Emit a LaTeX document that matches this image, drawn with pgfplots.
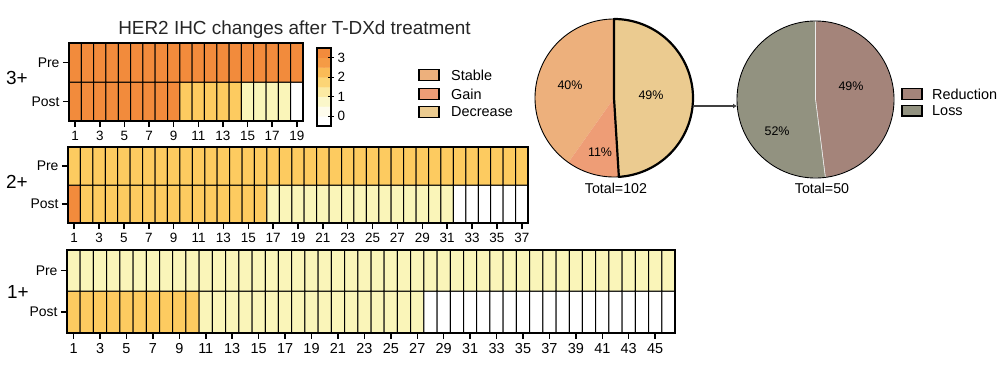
\documentclass[border=0pt]{standalone}
\usepackage{pgfplots}
\pgfplotsset{compat=1.18}
\usepackage{fontspec}
\setmainfont{Liberation Sans}
\usetikzlibrary{arrows.meta}

\definecolor{cstable}{RGB}{237,176,124}
\definecolor{cgain}{RGB}{238,157,118}
\definecolor{cdec}{RGB}{235,203,144}
\definecolor{cred}{RGB}{164,132,122}
\definecolor{closs}{RGB}{146,146,128}

\pgfplotsset{
  myhm/.style={
    scale only axis, anchor=south west, axis on top,
    axis line style={line width=1.8bp},
    enlargelimits=false, ymin=0.5, ymax=2.5,
    ytick={1,2}, yticklabels={Post,Pre},
    tick align=outside, major tick length=6bp,
    xtick pos=bottom, ytick pos=left,
    every tick/.style={black, line width=1.5bp},
    x tick label style={font=\fontsize{13.5}{13.5}\selectfont, yshift=-1bp},
    y tick label style={font=\fontsize{14}{14}\selectfont},
    /pgf/number format/assume math mode=true,
    point meta min=0, point meta max=3,
  },
}

\begin{document}
\begin{tikzpicture}
\path[use as bounding box] (0,0) rectangle (1006bp,-367bp);

% ---------- Pie 1 (Total = 102: Decrease 50, Gain 11, Stable 41) ----------
\begin{axis}[scale only axis, anchor=south west, at={(535bp,-177bp)},
  width=158bp, height=158bp, xmin=-1, xmax=1, ymin=-1, ymax=1, hide axis, clip=false]
\addplot[fill=cstable, draw=none, domain={90-360}:{90-360*(50+11)/102}, samples=120]
  ({cos(x)},{sin(x)}) -- (axis cs:0,0) -- cycle;
\addplot[fill=cgain, draw=none, domain={90-360*(50+11)/102}:{90-360*50/102}, samples=40]
  ({cos(x)},{sin(x)}) -- (axis cs:0,0) -- cycle;
\addplot[black, line width=0.9bp, domain=0:360, samples=240] ({cos(x)},{sin(x)});
\addplot[fill=cdec, draw=black, line width=2.2bp, line join=round, domain={90-360*50/102}:90, samples=120]
  ({cos(x)},{sin(x)}) -- (axis cs:0,0) -- cycle;
\node[font=\fontsize{12.5}{12.5}\selectfont] at (axis cs:-0.557,0.165) {40\%};
\node[font=\fontsize{12.5}{12.5}\selectfont] at (axis cs:0.468,0.038) {49\%};
\node[font=\fontsize{12.5}{12.5}\selectfont] at (axis cs:-0.177,-0.684) {11\%};
\node[font=\fontsize{14.3}{14.3}\selectfont] at (axis cs:0.025,-1.14) {Total=102};
\end{axis}

% ---------- Pie 2 (Total = 50: Reduction 24, Loss 26) ----------
\begin{axis}[scale only axis, anchor=south west, at={(737bp,-178bp)},
  width=157bp, height=157bp, xmin=-1, xmax=1, ymin=-1, ymax=1, hide axis, clip=false]
\addplot[fill=cred, draw=white!85!gray, line width=0.6bp, domain={90-360*24/50}:90, samples=120]
  ({cos(x)},{sin(x)}) -- (axis cs:0,0) -- cycle;
\addplot[fill=closs, draw=white!85!gray, line width=0.6bp, domain={90-360}:{90-360*24/50}, samples=120]
  ({cos(x)},{sin(x)}) -- (axis cs:0,0) -- cycle;
\addplot[black, line width=0.9bp, domain=0:360, samples=240] ({cos(x)},{sin(x)});
\node[font=\fontsize{12.5}{12.5}\selectfont] at (axis cs:0.452,0.172) {49\%};
\node[font=\fontsize{12.5}{12.5}\selectfont] at (axis cs:-0.49,-0.401) {52\%};
\node[font=\fontsize{14.3}{14.3}\selectfont] at (axis cs:0.083,-1.127) {Total=50};
\end{axis}

% arrow between pies
\draw[line width=2.2bp, black!75, -{Latex[length=4bp,width=5bp]}] (693bp,-106bp) -- (737bp,-106bp);

% Title
\node[font=\fontsize{19}{19}\selectfont, text=black!85] at (294.5bp,-30bp) {HER2 IHC changes after T-DXd treatment};

% ---------- 3+ ----------
\begin{axis}[myhm, at={(69bp,-121bp)}, width=234bp, height=78bp,
  xmin=0.5, xmax=19.5, xtick={1,3,...,19},
  colormap={her}{rgb255=(255,255,255) rgb255=(250,245,185) rgb255=(253,203,96) rgb255=(242,139,60)}]
\addplot[matrix plot*, point meta=explicit, draw=black, line width=1bp, mesh/cols=19] coordinates {
(1,1)[3] (2,1)[3] (3,1)[3] (4,1)[3] (5,1)[3] (6,1)[3] (7,1)[3] (8,1)[3] (9,1)[3]
(10,1)[2] (11,1)[2] (12,1)[2] (13,1)[2] (14,1)[2]
(15,1)[1] (16,1)[1] (17,1)[1] (18,1)[1] (19,1)[0]
(1,2)[3] (2,2)[3] (3,2)[3] (4,2)[3] (5,2)[3] (6,2)[3] (7,2)[3] (8,2)[3] (9,2)[3]
(10,2)[3] (11,2)[3] (12,2)[3] (13,2)[3] (14,2)[3] (15,2)[3] (16,2)[3] (17,2)[3] (18,2)[3] (19,2)[3]
};
\end{axis}
\node[font=\fontsize{19}{19}\selectfont] at (17bp,-78bp) {3+};

% ---------- 2+ ----------
\begin{axis}[myhm, at={(68bp,-223bp)}, width=460bp, height=76bp,
  xmin=0.5, xmax=37.5, xtick={1,3,...,37},
  colormap={her}{rgb255=(255,255,255) rgb255=(250,245,185) rgb255=(253,203,96) rgb255=(242,139,60)}]
\addplot[matrix plot*, point meta=explicit, draw=black, line width=1bp, mesh/cols=37] coordinates {
(1,1)[3]
(2,1)[2] (3,1)[2] (4,1)[2] (5,1)[2] (6,1)[2] (7,1)[2] (8,1)[2] (9,1)[2] (10,1)[2]
(11,1)[2] (12,1)[2] (13,1)[2] (14,1)[2] (15,1)[2] (16,1)[2]
(17,1)[1] (18,1)[1] (19,1)[1] (20,1)[1] (21,1)[1] (22,1)[1] (23,1)[1] (24,1)[1]
(25,1)[1] (26,1)[1] (27,1)[1] (28,1)[1] (29,1)[1] (30,1)[1] (31,1)[1]
(32,1)[0] (33,1)[0] (34,1)[0] (35,1)[0] (36,1)[0] (37,1)[0]
(1,2)[2] (2,2)[2] (3,2)[2] (4,2)[2] (5,2)[2] (6,2)[2] (7,2)[2] (8,2)[2] (9,2)[2] (10,2)[2]
(11,2)[2] (12,2)[2] (13,2)[2] (14,2)[2] (15,2)[2] (16,2)[2] (17,2)[2] (18,2)[2] (19,2)[2]
(20,2)[2] (21,2)[2] (22,2)[2] (23,2)[2] (24,2)[2] (25,2)[2] (26,2)[2] (27,2)[2] (28,2)[2]
(29,2)[2] (30,2)[2] (31,2)[2] (32,2)[2] (33,2)[2] (34,2)[2] (35,2)[2] (36,2)[2] (37,2)[2]
};
\end{axis}
\node[font=\fontsize{19}{19}\selectfont] at (17bp,-182bp) {2+};

% ---------- 1+ ----------
\begin{axis}[myhm, at={(67bp,-332.7bp)}, width=608bp, height=83bp,
  xmin=0.5, xmax=46.5, xtick={1,3,...,45},
  x tick label style={font=\fontsize{14.5}{14.5}\selectfont},
  colormap={her}{rgb255=(255,255,255) rgb255=(250,245,185) rgb255=(253,203,96) rgb255=(242,139,60)}]
\addplot[matrix plot*, point meta=explicit, draw=black, line width=1bp, mesh/cols=46] coordinates {
(1,1)[2] (2,1)[2] (3,1)[2] (4,1)[2] (5,1)[2] (6,1)[2] (7,1)[2] (8,1)[2] (9,1)[2] (10,1)[2]
(11,1)[1] (12,1)[1] (13,1)[1] (14,1)[1] (15,1)[1] (16,1)[1] (17,1)[1] (18,1)[1] (19,1)[1]
(20,1)[1] (21,1)[1] (22,1)[1] (23,1)[1] (24,1)[1] (25,1)[1] (26,1)[1] (27,1)[1]
(28,1)[0] (29,1)[0] (30,1)[0] (31,1)[0] (32,1)[0] (33,1)[0] (34,1)[0] (35,1)[0] (36,1)[0]
(37,1)[0] (38,1)[0] (39,1)[0] (40,1)[0] (41,1)[0] (42,1)[0] (43,1)[0] (44,1)[0] (45,1)[0] (46,1)[0]
(1,2)[1] (2,2)[1] (3,2)[1] (4,2)[1] (5,2)[1] (6,2)[1] (7,2)[1] (8,2)[1] (9,2)[1] (10,2)[1]
(11,2)[1] (12,2)[1] (13,2)[1] (14,2)[1] (15,2)[1] (16,2)[1] (17,2)[1] (18,2)[1] (19,2)[1]
(20,2)[1] (21,2)[1] (22,2)[1] (23,2)[1] (24,2)[1] (25,2)[1] (26,2)[1] (27,2)[1] (28,2)[1]
(29,2)[1] (30,2)[1] (31,2)[1] (32,2)[1] (33,2)[1] (34,2)[1] (35,2)[1] (36,2)[1] (37,2)[1]
(38,2)[1] (39,2)[1] (40,2)[1] (41,2)[1] (42,2)[1] (43,2)[1] (44,2)[1] (45,2)[1] (46,2)[1]
};
\end{axis}
\node[font=\fontsize{19}{19}\selectfont] at (18bp,-292bp) {1+};

% colour bar
\begin{axis}[scale only axis, anchor=south west, axis on top, at={(317bp,-126bp)},
  width=14bp, height=78bp, xmin=0, xmax=1, ymin=-0.5, ymax=3.5,
  enlargelimits=false, xtick=\empty, ytick={0,1,2,3},
  ytick pos=right, yticklabel pos=right, tick align=center, major tick length=6bp,
  every tick/.style={black, line width=1.2bp},
  axis line style={line width=1.8bp},
  y tick label style={font=\fontsize{13.5}{13.5}\selectfont},
  /pgf/number format/assume math mode=true,
  colormap={her}{rgb255=(255,255,255) rgb255=(250,245,185) rgb255=(253,203,96) rgb255=(242,139,60)},
  point meta min=0, point meta max=3]
\addplot[matrix plot*, point meta=explicit, draw=none, mesh/cols=2] coordinates {
(0.25,-0.25)[0] (0.75,-0.25)[0]
(0.25,0.25)[0.25] (0.75,0.25)[0.25]
(0.25,0.75)[0.75] (0.75,0.75)[0.75]
(0.25,1.25)[1.25] (0.75,1.25)[1.25]
(0.25,1.75)[1.75] (0.75,1.75)[1.75]
(0.25,2.25)[2.25] (0.75,2.25)[2.25]
(0.25,2.75)[2.75] (0.75,2.75)[2.75]
(0.25,3.25)[3] (0.75,3.25)[3]
};
\end{axis}

% legends
\begin{scope}[line width=1.5bp]
\filldraw[fill=cstable, draw=black] (419bp,-69.5bp) rectangle (439bp,-80.5bp);
\filldraw[fill=cgain, draw=black] (419bp,-88.5bp) rectangle (439bp,-99.5bp);
\filldraw[fill=cdec, draw=black] (419bp,-106.5bp) rectangle (439bp,-117.5bp);
\filldraw[fill=cred, draw=black] (902bp,-88.5bp) rectangle (922bp,-99.5bp);
\filldraw[fill=closs, draw=black] (902bp,-105.5bp) rectangle (922bp,-116bp);
\end{scope}
\begin{scope}[every node/.style={anchor=west, font=\fontsize{14.5}{14.5}\selectfont, inner sep=0pt}]
\node at (451bp,-75bp) {Stable};
\node at (451bp,-94bp) {Gain};
\node at (451bp,-112bp) {Decrease};
\node at (932bp,-94bp) {Reduction};
\node at (932bp,-111bp) {Loss};
\end{scope}
\end{tikzpicture}
\end{document}
